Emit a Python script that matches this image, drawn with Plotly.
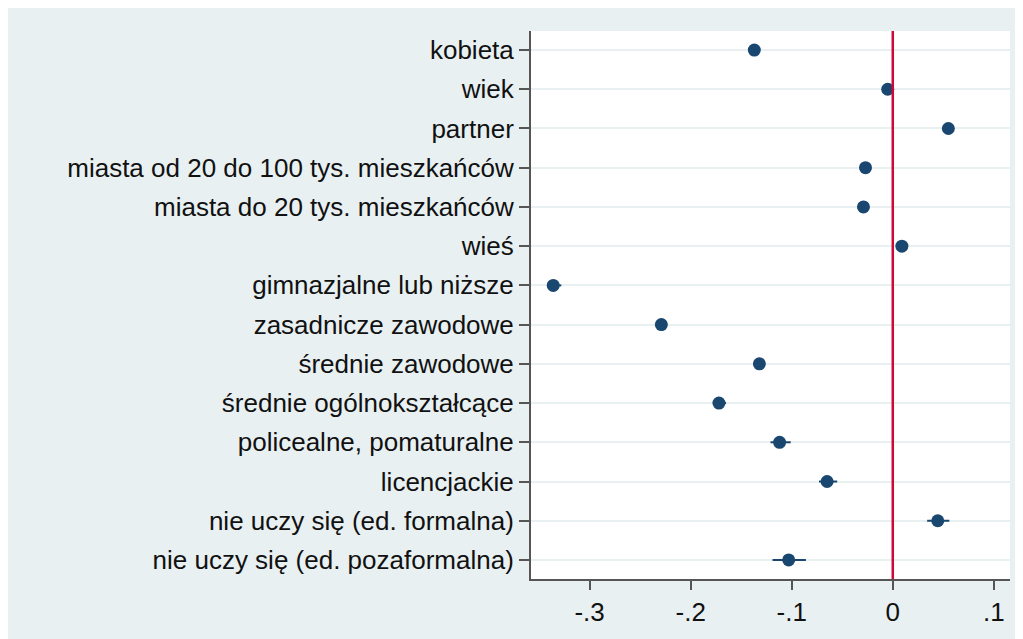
import plotly.graph_objects as go

labels = [
    "kobieta",
    "wiek",
    "partner",
    "miasta od 20 do 100 tys. mieszkańców",
    "miasta do 20 tys. mieszkańców",
    "wieś",
    "gimnazjalne lub niższe",
    "zasadnicze zawodowe",
    "średnie zawodowe",
    "średnie ogólnokształcące",
    "policealne, pomaturalne",
    "licencjackie",
    "nie uczy się (ed. formalna)",
    "nie uczy się (ed. pozaformalna)",
]
coef = [-0.137, -0.005, 0.055, -0.027, -0.029, 0.009, -0.336, -0.229,
        -0.132, -0.172, -0.112, -0.065, 0.0445, -0.103]
ci_low = [-0.141, -0.007, 0.051, -0.031, -0.033, 0.005, -0.342, -0.234,
          -0.137, -0.178, -0.121, -0.073, 0.034, -0.119]
ci_high = [-0.133, -0.003, 0.059, -0.023, -0.025, 0.013, -0.328, -0.224,
           -0.127, -0.165, -0.101, -0.055, 0.056, -0.086]
xtick_vals = [-0.3, -0.2, -0.1, 0, 0.1]
xtick_text = ["-.3", "-.2", "-.1", "0", ".1"]

pos = list(range(len(labels)))
navy = "#1A476F"
bg = "#E8F0F2"
font = "Liberation Sans, Arial, sans-serif"
fs = 26

fig = go.Figure()
fig.add_trace(go.Scatter(
    x=coef, y=pos, mode="markers",
    marker=dict(color=navy, size=13, line=dict(width=0)),
    error_x=dict(type="data", symmetric=False,
                 array=[h - c for h, c in zip(ci_high, coef)],
                 arrayminus=[c - l for c, l in zip(coef, ci_low)],
                 color=navy, thickness=2, width=0),
    showlegend=False,
))

fig.update_layout(
    width=1015, height=631,
    margin=dict(l=523, r=13, t=23, b=60),
    paper_bgcolor=bg, plot_bgcolor="white",
    font=dict(family=font, size=fs, color="#111111"),
    xaxis=dict(range=[-0.358, 0.116], tickvals=xtick_vals, ticktext=xtick_text,
               showgrid=False, zeroline=False, showline=True, linecolor="#555555",
               linewidth=2, ticks="outside", ticklen=9, tickwidth=1.5,
               tickcolor="#555555", tickfont=dict(size=fs)),
    yaxis=dict(range=[13.485, -0.485], tickvals=pos, ticktext=labels,
               showgrid=True, gridcolor="#E8F0F2", gridwidth=2, zeroline=False,
               showline=True, linecolor="#555555", linewidth=2,
               ticks="outside", ticklen=10, tickwidth=1.5, tickcolor="#555555",
               tickfont=dict(size=fs)),
    shapes=[
        dict(type="line", xref="x", yref="paper", x0=0, x1=0, y0=0, y1=1,
             line=dict(color="#CC0A35", width=2.5)),
    ],
)

fig.write_html("out.html")
